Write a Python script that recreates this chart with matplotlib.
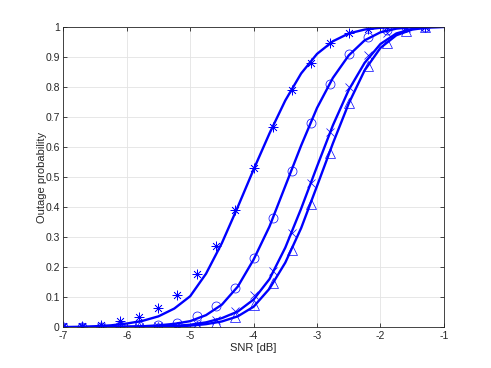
import numpy as np
from matplotlib import pyplot as plt

plt.rcParams['font.family'] = ['Liberation Sans', 'DejaVu Sans']
plt.rcParams['axes.unicode_minus'] = False

# 理论曲线 (读自原图, 间隔 0.25 dB)
snr_theory = [-7, -6.75, -6.5, -6.25, -6, -5.75, -5.5, -5.25, -5, -4.75, -4.5, -4.25,
              -4, -3.75, -3.5, -3.25, -3, -2.75, -2.5, -2.25, -2, -1.75, -1.5, -1.25, -1]
star_theory = [0.000, 0.001, 0.003, 0.006, 0.012, 0.021, 0.036, 0.062, 0.103, 0.178, 0.280, 0.400,
               0.525, 0.645, 0.755, 0.845, 0.910, 0.952, 0.978, 0.991, 0.997, 0.999, 1.0, 1.0, 1.0]
circle_theory = [0.000, 0.000, 0.000, 0.001, 0.002, 0.003, 0.006, 0.011, 0.020, 0.040, 0.075, 0.135,
                 0.225, 0.335, 0.470, 0.605, 0.730, 0.830, 0.905, 0.955, 0.982, 0.994, 0.999, 1.0, 1.0]
cross_theory = [0.000, 0.000, 0.000, 0.000, 0.001, 0.001, 0.002, 0.004, 0.008, 0.016, 0.030, 0.052,
                0.092, 0.160, 0.265, 0.395, 0.535, 0.672, 0.790, 0.880, 0.943, 0.978, 0.993, 0.999, 1.0]
tri_theory = [0.000, 0.000, 0.000, 0.000, 0.000, 0.000, 0.001, 0.002, 0.005, 0.010, 0.019, 0.036,
              0.068, 0.128, 0.215, 0.330, 0.470, 0.612, 0.745, 0.855, 0.930, 0.972, 0.991, 0.998, 1.0]

# 仿真点 (间隔 0.3 dB)
snr_sim = [-7, -6.7, -6.4, -6.1, -5.8, -5.5, -5.2, -4.9, -4.6, -4.3,
           -4.0, -3.7, -3.4, -3.1, -2.8, -2.5, -2.2, -1.9, -1.6, -1.3]
star_sim = [0.004, 0.004, 0.008, 0.022, 0.035, 0.063, 0.107, 0.176, 0.270, 0.390,
            0.530, 0.665, 0.790, 0.880, 0.945, 0.980, 0.993, 0.998, 1.0, 1.0]
circle_sim = [0.002, 0.002, 0.002, 0.003, 0.004, 0.006, 0.015, 0.037, 0.071, 0.130,
              0.230, 0.364, 0.520, 0.680, 0.810, 0.910, 0.965, 0.990, 0.998, 1.0]
cross_sim = [0.000, 0.000, 0.001, 0.001, 0.002, 0.003, 0.005, 0.010, 0.023, 0.053,
             0.106, 0.188, 0.315, 0.480, 0.650, 0.800, 0.905, 0.978, 0.995, 1.0]
tri_sim = [0.000, 0.000, 0.000, 0.000, 0.001, 0.001, 0.002, 0.005, 0.013, 0.034,
           0.073, 0.146, 0.256, 0.410, 0.580, 0.745, 0.870, 0.946, 0.985, 1.0]

fig = plt.figure(figsize=(4.91, 3.68), dpi=100)
ax = fig.add_axes([0.129, 0.111, 0.775, 0.816])

blue = '#0000ff'
for sim, mk, ms in [(star_sim, (8, 2, 0), 7), (circle_sim, 'o', 6.5), (cross_sim, 'x', 6), (tri_sim, '^', 6.5)]:
	ax.plot(snr_sim, sim, linestyle='none', marker=mk, markersize=ms,
	        markerfacecolor='none', markeredgecolor=blue, markeredgewidth=0.5)
for th in [star_theory, circle_theory, cross_theory, tri_theory]:
	ax.plot(snr_theory, th, color=blue, linewidth=1.7)

ax.set_xlim(-7, -1)
ax.set_ylim(0, 1)
ax.set_xticks(np.arange(-7, 0, 1))
ax.set_yticks(np.arange(0, 1.01, 0.1))
ax.set_yticklabels(['0', '0.1', '0.2', '0.3', '0.4', '0.5', '0.6', '0.7', '0.8', '0.9', '1'])
ax.grid(True, color='#e3e3e3', linewidth=0.6)
ax.set_axisbelow(True)
ax.tick_params(direction='in', length=3, width=0.6, labelsize=7.5, colors='#262626',
               top=True, right=True, pad=2.5)
for s in ax.spines.values():
	s.set_color('#262626')
	s.set_linewidth(0.6)
ax.set_xlabel('SNR [dB]', fontsize=8, color='#262626', labelpad=2)
ax.set_ylabel('Outage probability', fontsize=8, color='#262626', labelpad=-1)

plt.savefig('out.png', dpi=100)
